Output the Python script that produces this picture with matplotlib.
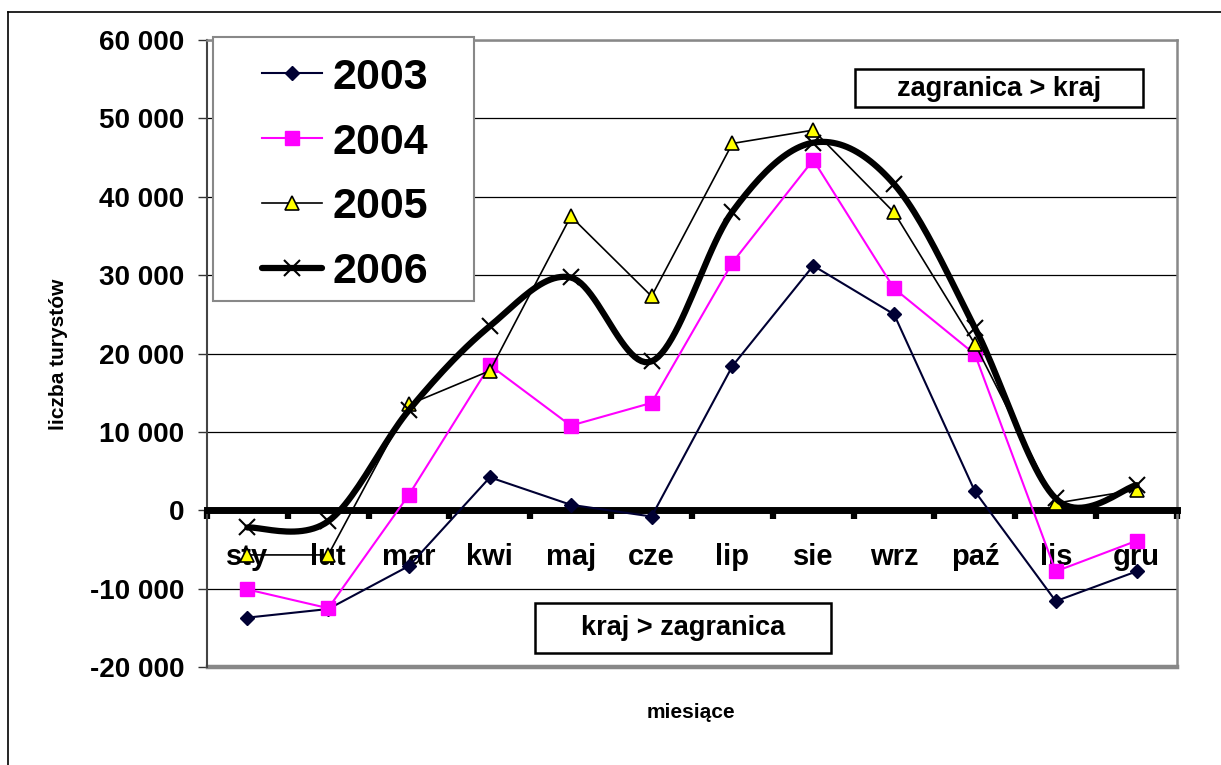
import numpy as np
import matplotlib
matplotlib.use("Agg")
import matplotlib.pyplot as plt
from matplotlib.patches import Rectangle
from matplotlib.lines import Line2D
from matplotlib.ticker import FuncFormatter

plt.rcParams['font.family'] = ['Liberation Sans', 'DejaVu Sans']
plt.rcParams['font.weight'] = 'bold'

# dane
miesiace = ['sty', 'lut', 'mar', 'kwi', 'maj', 'cze', 'lip', 'sie', 'wrz', 'paź', 'lis', 'gru']
y2003 = [-13700, -12600, -7100, 4200, 700, -800, 18400, 31200, 25000, 2400, -11600, -7800]
y2004 = [-10100, -12500, 2000, 18500, 10800, 13700, 31600, 44700, 28300, 19900, -7800, -3900]
y2005 = [-5700, -5700, 13500, 17800, 37500, 27300, 46800, 48500, 38000, 21200, 900, 2600]
y2006 = [-2200, -1400, 12800, 23500, 29700, 19000, 38100, 46900, 41600, 23300, 1500, 3200]
lata = ['2003', '2004', '2005', '2006']
y_ticks = [-20000, -10000, 0, 10000, 20000, 30000, 40000, 50000, 60000]

W, H = 1221, 765


def fx(px):
    return px / W


def fy(py):
    return 1 - py / H


# wygladzanie jak w Excelu (krzywe Beziera)
def smooth(y, n=25):
    y = np.asarray(y, float)
    x = np.arange(len(y), dtype=float)
    P = np.column_stack([x, y])
    P = np.vstack([P[:1], P, P[-1:]])
    t = np.linspace(0, 1, n)[:, None]
    out = []
    for i in range(len(y) - 1):
        p0, p3 = P[i + 1], P[i + 2]
        c1 = p0 + (P[i + 2] - P[i]) / 6
        c2 = p3 - (P[i + 3] - P[i + 1]) / 6
        seg = (1 - t) ** 3 * p0 + 3 * (1 - t) ** 2 * t * c1 + 3 * (1 - t) * t ** 2 * c2 + t ** 3 * p3
        out.append(seg if i == 0 else seg[1:])
    out = np.vstack(out)
    return out[:, 0], out[:, 1], [i * (n - 1) for i in range(len(y))]


fig = plt.figure(figsize=(W / 100, H / 100), dpi=100)
ax = fig.add_axes([fx(207), fy(667), fx(1177) - fx(207), fy(40) - fy(667)])

x = np.arange(len(miesiace))
l1, = ax.plot(x, y2003, color='#000033', lw=1.5, marker='D', ms=7.5, mfc='#000033', mec='#000033', zorder=3)
l2, = ax.plot(x, y2004, color='#FF00FF', lw=1.5, marker='s', ms=10.5, mfc='#FF00FF', mec='#FF00FF', zorder=3)
l3, = ax.plot(x, y2005, color='black', lw=1.2, marker='^', ms=10, mfc='#FFFF00', mec='black', mew=1.2, zorder=3)
sx, sy, idx = smooth(y2006)
l4, = ax.plot(sx, sy, color='black', lw=4.5, marker='x', ms=11, mew=1.5, markevery=idx,
              solid_capstyle='round', zorder=3)

ax.set_xlim(-0.5, len(miesiace) - 0.5)
ax.set_ylim(-20000, 60000)

ax.set_yticks(y_ticks)
ax.yaxis.set_major_formatter(FuncFormatter(lambda v, p: f"{int(v):,}".replace(',', ' ')))
ax.tick_params(axis='y', direction='out', length=6.5, width=1, color='#333333', labelsize=20, pad=10)
ax.yaxis.grid(True, color='black', lw=0.9)
ax.set_axisbelow(True)

ax.set_xticks(x)
ax.set_xticklabels(miesiace)
ax.set_xticks(np.arange(-0.5, len(miesiace)), minor=True)
ax.tick_params(axis='x', which='major', length=0, labelsize=21, pad=23.5)
ax.tick_params(axis='x', which='minor', direction='out', length=6.5, width=4.5, color='black')

ax.spines['bottom'].set_position(('data', 0))
ax.spines['bottom'].set_linewidth(5)
ax.spines['bottom'].set_color('black')
ax.spines['left'].set_color('#444444')
ax.spines['left'].set_linewidth(1.5)
for s in ['top', 'right']:
    ax.spines[s].set_color('#888888')
    ax.spines[s].set_linewidth(1.8)
ax.add_patch(Rectangle((0, 0), 1, 0.001, transform=ax.transAxes, fill=False,
                       ec='#888888', lw=2.5, clip_on=False))

# ramka wykresu
fig.add_artist(Line2D([fx(8), 1], [fy(12), fy(12)], color='black', lw=1.2))
fig.add_artist(Line2D([fx(8), fx(8)], [fy(12), 0], color='black', lw=1.2))

# legenda
fig.add_artist(Rectangle((fx(213), fy(301)), fx(474) - fx(213), fy(37) - fy(301),
                         transform=fig.transFigure, fc='white', ec='#888888', lw=1.5, zorder=4))
leg = fig.legend([l1, l2, l3, l4], lata, loc='center', bbox_to_anchor=(fx(345), fy(175)),
                 frameon=False, fontsize=31, handlelength=1.4, handletextpad=0.25,
                 labelspacing=0.58, borderpad=0)
leg.set_zorder(5)

# opisy
fig.add_artist(Rectangle((fx(855), fy(107)), fx(1143) - fx(855), fy(69) - fy(107),
                         transform=fig.transFigure, fc='white', ec='black', lw=1.8, zorder=4))
fig.text(fx(999), fy(89), 'zagranica > kraj', ha='center', va='center', fontsize=19.5, zorder=5)
fig.add_artist(Rectangle((fx(535), fy(653)), fx(831) - fx(535), fy(603) - fy(653),
                         transform=fig.transFigure, fc='white', ec='black', lw=1.8, zorder=4))
fig.text(fx(683), fy(628), 'kraj > zagranica', ha='center', va='center', fontsize=19.5, zorder=5)

fig.text(fx(58), fy(354), 'liczba turystów', rotation=90, ha='center', va='center', fontsize=15)
fig.text(fx(691), fy(713), 'miesiące', ha='center', va='center', fontsize=15)

fig.savefig('out.png', dpi=100)
